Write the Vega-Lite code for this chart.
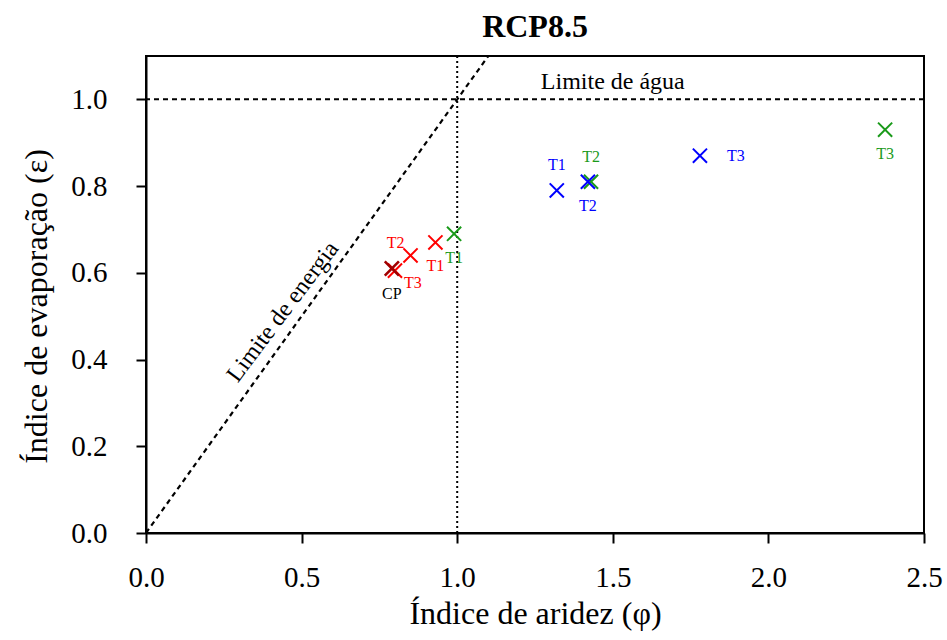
{
  "$schema": "https://vega.github.io/schema/vega-lite/v6.json",
  "width": 778,
  "height": 477,
  "autosize": {"type": "none"},
  "padding": {"left": 146, "top": 56, "right": 23, "bottom": 107},
  "background": "white",
  "config": {
    "font": "Liberation Serif",
    "view": {"stroke": "black", "strokeWidth": 2},
    "axis": {
      "grid": false,
      "domainColor": "black",
      "domainWidth": 2,
      "tickColor": "black",
      "tickWidth": 2,
      "tickSize": 10,
      "labelFont": "Liberation Serif",
      "labelFontSize": 29,
      "labelColor": "black",
      "titleFont": "Liberation Serif",
      "titleFontSize": 32,
      "titleFontWeight": "normal",
      "titleColor": "black"
    }
  },
  "title": {
    "text": "RCP8.5",
    "font": "Liberation Serif",
    "fontSize": 32,
    "fontWeight": "bold",
    "color": "black",
    "offset": 11
  },
  "datasets": {
    "pts": [
      {"phi": 0.80, "eps": 0.605, "serie": "M1", "rotulo": "T3", "pos": "lowerright"},
      {"phi": 0.85, "eps": 0.64, "serie": "M1", "rotulo": "T2", "pos": "upperleft"},
      {"phi": 0.93, "eps": 0.67, "serie": "M1", "rotulo": "T1", "pos": "below"},
      {"phi": 0.99, "eps": 0.69, "serie": "M2", "rotulo": "T1", "pos": "below"},
      {"phi": 1.43, "eps": 0.81, "serie": "M2", "rotulo": "T2", "pos": "above"},
      {"phi": 2.375, "eps": 0.93, "serie": "M2", "rotulo": "T3", "pos": "below"},
      {"phi": 1.32, "eps": 0.79, "serie": "M3", "rotulo": "T1", "pos": "above"},
      {"phi": 1.42, "eps": 0.81, "serie": "M3", "rotulo": "T2", "pos": "below"},
      {"phi": 1.78, "eps": 0.87, "serie": "M3", "rotulo": "T3", "pos": "right"},
      {"phi": 0.79, "eps": 0.61, "serie": "CP", "rotulo": "CP", "pos": "belowcp"}
    ],
    "energia": [{"phi": 0, "eps": 0}, {"phi": 1.1, "eps": 1.1}]
  },
  "encoding": {
    "x": {
      "field": "phi", "type": "quantitative",
      "scale": {"domain": [0, 2.5], "nice": false, "zero": false},
      "axis": {"values": [0, 0.5, 1, 1.5, 2, 2.5], "format": ".1f", "title": "Índice de aridez (φ)", "labelFlush": false, "labelPadding": 20, "titlePadding": 6}
    },
    "y": {
      "field": "eps", "type": "quantitative",
      "scale": {"domain": [0, 1.1], "nice": false, "zero": false},
      "axis": {"values": [0, 0.2, 0.4, 0.6, 0.8, 1.0], "format": ".1f", "title": "Índice de evaporação (ε)", "labelPadding": 29, "titlePadding": 17, "titleY": 250}
    }
  },
  "layer": [
    {
      "data": {"values": [{"eps": 1}]},
      "mark": {"type": "rule", "color": "black", "strokeWidth": 2, "strokeDash": [5, 4]},
      "encoding": {"x": null, "y": {"field": "eps", "type": "quantitative"}}
    },
    {
      "data": {"values": [{"phi": 1}]},
      "mark": {"type": "rule", "color": "black", "strokeWidth": 2, "strokeDash": [2, 3]},
      "encoding": {"y": null, "x": {"field": "phi", "type": "quantitative"}}
    },
    {
      "data": {"name": "energia"},
      "mark": {"type": "line", "color": "black", "strokeWidth": 2.2, "strokeDash": [5, 4], "clip": true}
    },
    {
      "data": {"values": [{"phi": 0.44, "eps": 0.51, "t": "Limite de energia"}]},
      "mark": {"type": "text", "angle": -53, "fontSize": 24, "font": "Liberation Serif", "color": "black"},
      "encoding": {"text": {"field": "t"}}
    },
    {
      "data": {"values": [{"phi": 1.5, "eps": 1.04, "t": "Limite de água"}]},
      "mark": {"type": "text", "fontSize": 24, "font": "Liberation Serif", "color": "black"},
      "encoding": {"text": {"field": "t"}}
    },
    {
      "data": {"name": "pts"},
      "mark": {"type": "point", "shape": "M-1,-1L1,1M-1,1L1,-1", "filled": false, "size": 200, "opacity": 1},
      "encoding": {
        "color": {"field": "serie", "type": "nominal", "legend": null,
          "scale": {"domain": ["M1", "M2", "M3", "CP"], "range": ["#ff0000", "#1a9a1a", "#0000ff", "#a00000"]}},
        "strokeWidth": {"condition": {"test": "datum.serie === 'CP'", "value": 2.6}, "value": 2}
      }
    },
    {
      "data": {"name": "pts"},
      "transform": [{"filter": "datum.pos === 'below'"}],
      "mark": {"type": "text", "fontSize": 16, "dy": 24},
      "encoding": {"text": {"field": "rotulo"}, "color": {"field": "serie", "type": "nominal", "legend": null}}
    },
    {
      "data": {"name": "pts"},
      "transform": [{"filter": "datum.pos === 'above'"}],
      "mark": {"type": "text", "fontSize": 16, "dy": -25},
      "encoding": {"text": {"field": "rotulo"}, "color": {"field": "serie", "type": "nominal", "legend": null}}
    },
    {
      "data": {"name": "pts"},
      "transform": [{"filter": "datum.pos === 'right'"}],
      "mark": {"type": "text", "fontSize": 16, "dx": 36},
      "encoding": {"text": {"field": "rotulo"}, "color": {"field": "serie", "type": "nominal", "legend": null}}
    },
    {
      "data": {"name": "pts"},
      "transform": [{"filter": "datum.pos === 'upperleft'"}],
      "mark": {"type": "text", "fontSize": 16, "dx": -15, "dy": -12},
      "encoding": {"text": {"field": "rotulo"}, "color": {"field": "serie", "type": "nominal", "legend": null}}
    },
    {
      "data": {"name": "pts"},
      "transform": [{"filter": "datum.pos === 'lowerright'"}],
      "mark": {"type": "text", "fontSize": 16, "dx": 18, "dy": 12},
      "encoding": {"text": {"field": "rotulo"}, "color": {"field": "serie", "type": "nominal", "legend": null}}
    },
    {
      "data": {"name": "pts"},
      "transform": [{"filter": "datum.pos === 'belowcp'"}],
      "mark": {"type": "text", "fontSize": 16, "dy": 26, "color": "black"},
      "encoding": {"text": {"field": "rotulo"}}
    }
  ]
}
